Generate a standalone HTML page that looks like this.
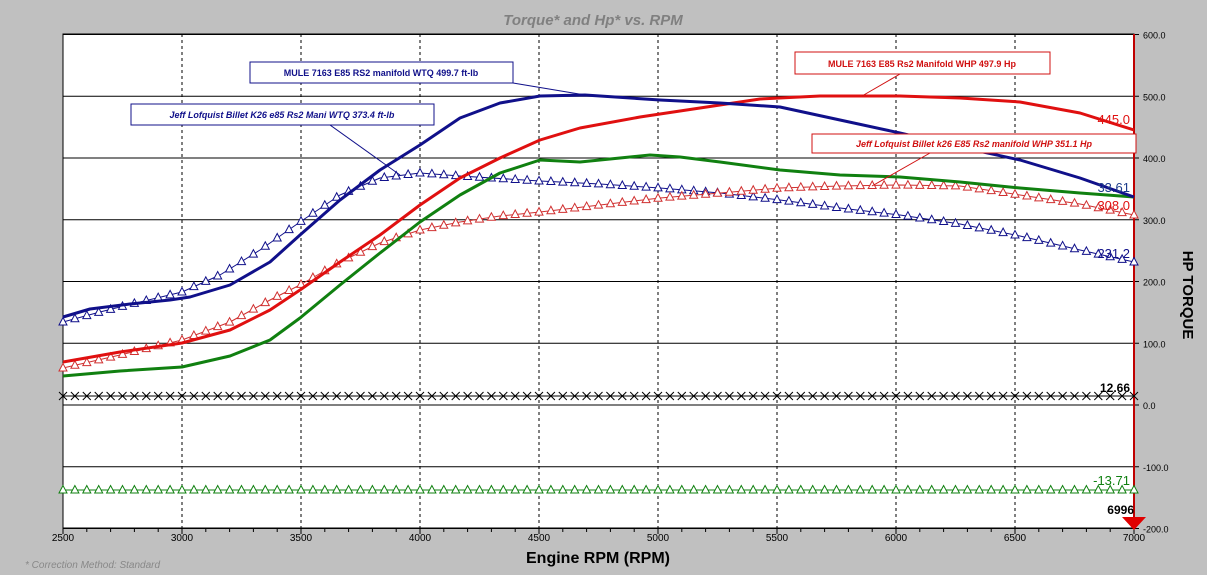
<!DOCTYPE html><html><head><style>body{margin:0;background:#c0c0c0;}svg{display:block}</style></head><body>
<svg id="s" width="1207" height="575" xmlns="http://www.w3.org/2000/svg" font-family="Liberation Sans, sans-serif">
<rect x="0" y="0" width="1207" height="575" fill="#c0c0c0"/>
<rect x="63" y="34" width="1071" height="494" fill="#fff"/>
<g id="grid"></g>
<g id="series"></g>
<text x="593" y="25" text-anchor="middle" font-size="15" font-weight="bold" font-style="italic" fill="#808080">Torque* and Hp* vs. RPM</text>
<text x="598" y="563" text-anchor="middle" font-size="16" font-weight="bold" fill="#000">Engine RPM (RPM)</text>
<text x="25" y="568" font-size="10" font-style="italic" fill="#888">* Correction Method: Standard</text>
<text transform="translate(1183,295) rotate(90)" text-anchor="middle" font-size="15" font-weight="bold" fill="#000">HP TORQUE</text>
<g font-size="13">
<text x="1130" y="124" text-anchor="end" fill="#e01010">445.0</text>
<text x="1130" y="192" text-anchor="end" fill="#1a3a8a">33.61</text>
<text x="1130" y="210" text-anchor="end" fill="#e01010">308.0</text>
<text x="1130" y="258" text-anchor="end" fill="#10108a">231.2</text>
<text x="1130" y="392" text-anchor="end" fill="#000" font-weight="bold" font-size="12">12.66</text>
<text x="1130" y="485" text-anchor="end" fill="#108010">-13.71</text>
<text x="1134" y="514" text-anchor="end" fill="#000" font-weight="bold" font-size="12">6996</text>
</g>
<polygon points="1122,517 1146,517 1134,530" fill="#e00000"/>
<g font-size="9" font-weight="bold">
<rect x="250" y="62" width="263" height="21" fill="#fff" stroke="#10108a"/>
<text x="381" y="76" text-anchor="middle" fill="#10108a">MULE 7163 E85 RS2 manifold WTQ 499.7 ft-lb</text>
<rect x="131" y="104" width="303" height="21" fill="#fff" stroke="#10108a"/>
<text x="282" y="118" text-anchor="middle" fill="#10108a" font-style="italic">Jeff Lofquist Billet K26 e85 Rs2 Mani WTQ 373.4 ft-lb</text>
<rect x="795" y="52" width="255" height="22" fill="#fff" stroke="#d01010"/>
<text x="922" y="67" text-anchor="middle" fill="#d01010">MULE 7163 E85 Rs2 Manifold WHP 497.9 Hp</text>
<rect x="812" y="134" width="324" height="19" fill="#fff" stroke="#d01010"/>
<text x="974" y="147" text-anchor="middle" fill="#d01010" font-style="italic">Jeff Lofquist Billet k26 E85 Rs2 manifold WHP 351.1 Hp</text>
<line x1="513" y1="83" x2="585" y2="95" stroke="#10108a"/>
<line x1="330" y1="125" x2="400" y2="175" stroke="#10108a"/>
<line x1="900" y1="74" x2="862" y2="96" stroke="#d01010"/>
<line x1="930" y1="153" x2="872" y2="186" stroke="#d01010"/>
</g>
</svg>
<script>
const NS="http://www.w3.org/2000/svg";
const g=document.getElementById('grid'),se=document.getElementById('series');
function el(p,t,a){const e=document.createElementNS(NS,t);for(const k in a)e.setAttribute(k,a[k]);p.appendChild(e);return e;}
const X=r=>63+(r-2500)*1071/4500, Y=v=>405-v*0.6175;
for(let v=-200;v<=600;v+=100){el(g,'line',{x1:63,x2:1134,y1:Y(v),y2:Y(v),stroke:'#000','stroke-width':1});
 const t=el(g,'text',{x:1143,y:Y(v)+4,'font-size':9,fill:'#000'});t.textContent=v.toFixed(1);
 el(g,'line',{x1:1134,x2:1139,y1:Y(v),y2:Y(v),stroke:'#000'});}
for(let r=2500;r<=7000;r+=500){if(r>2500&&r<7000)el(g,'line',{x1:X(r),x2:X(r),y1:34,y2:528,stroke:'#000','stroke-dasharray':'3,3'});
 const t=el(g,'text',{x:X(r),y:541,'font-size':10,'text-anchor':'middle',fill:'#000'});t.textContent=r;}
for(let r=2500;r<=7000;r+=100)el(g,'line',{x1:X(r),x2:X(r),y1:528,y2:r%500?532:534,stroke:'#000'});
el(g,'rect',{x:63,y:34,width:1071,height:494,fill:'none',stroke:'#000'});
el(g,'line',{x1:1134,x2:1134,y1:34,y2:528,stroke:'#c00000','stroke-width':2});
function interp(pts,x){for(let i=0;i<pts.length-1;i++){if(x>=pts[i][0]&&x<=pts[i+1][0]){const t=(x-pts[i][0])/(pts[i+1][0]-pts[i][0]);return pts[i][1]+t*(pts[i+1][1]-pts[i][1]);}}return pts[pts.length-1][1];}
function line(pts,c,w){el(se,'polyline',{points:pts.map(p=>p.join(',')).join(' '),fill:'none',stroke:c,'stroke-width':w,'stroke-linejoin':'round'});}
function tri(pts,c){line(pts,c,1);for(let r=2500;r<=7000;r+=50){const x=X(r),y=interp(pts,x);el(se,'polygon',{points:`${x},${y-4.5} ${x-4},${y+3} ${x+4},${y+3}`,fill:'#fff',stroke:c,'stroke-width':1});}}
const bt=[[63,322],[100,312],[140,302],[182,292],[220,275],[260,250],[300,222],[340,195],[380,178],[420,173],[460,176],[540,181],[600,184],[660,188],[720,193],[780,200],[840,208],[900,215],[960,224],[1020,236],[1080,250],[1134,262]];
const rt=[[63,368],[120,355],[182,340],[230,322],[270,300],[300,285],[340,262],[380,243],[420,230],[460,222],[500,216],[540,212],[600,205],[660,198],[720,193],[780,188],[840,186],[900,185],[960,186],[1020,195],[1080,204],[1134,215]];
tri(bt,'#10108a');tri(rt,'#d03030');tri([[63,490],[1134,490]],'#108010');
line([[63,396],[1134,396]],'#000',1);
for(let r=2500;r<=7000;r+=50){const x=X(r);el(se,'path',{d:`M${x-4},${392}L${x+4},${400}M${x+4},${392}L${x-4},${400}`,stroke:'#000','stroke-width':1});}
line([[63,376],[120,371],[182,367],[230,356],[270,340],[300,318],[340,285],[380,253],[420,222],[460,195],[500,173],[540,160],[580,162],[620,158],[650,155],[680,157],[720,162],[780,170],[840,175],[900,177],[960,182],[1020,188],[1080,193],[1134,197]],'#108010',3);
line([[63,362],[120,352],[182,343],[230,330],[270,310],[300,290],[340,262],[380,235],[420,205],[460,178],[500,158],[540,140],[580,128],[640,117],[700,108],[760,99],[820,96],[900,96],[960,98],[1020,102],[1080,113],[1134,130]],'#e01010',3);
line([[63,317],[90,309],[130,304],[170,300],[190,297],[230,285],[270,262],[300,235],[340,200],[380,170],[420,145],[460,118],[500,103],[540,96],[585,95],[660,100],[720,103],[780,107],[840,120],[900,133],[960,147],[1020,160],[1080,178],[1134,197]],'#10108a',3);
</script>
</body></html>
